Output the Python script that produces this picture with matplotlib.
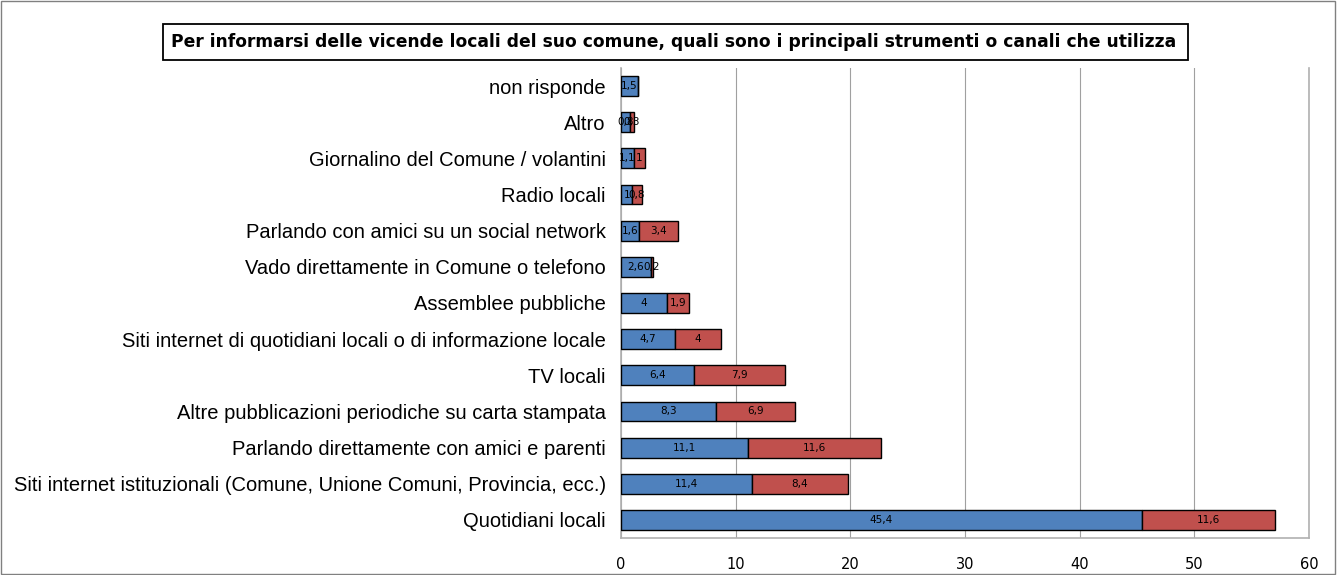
import numpy as np
import matplotlib.pyplot as plt
from matplotlib.patches import Rectangle

# Categories from bottom to top
categories = [
    "Quotidiani locali",
    "Siti internet istituzionali (Comune, Unione Comuni, Provincia, ecc.)",
    "Parlando direttamente con amici e parenti",
    "Altre pubblicazioni periodiche su carta stampata",
    "TV locali",
    "Siti internet di quotidiani locali o di informazione locale",
    "Assemblee pubbliche",
    "Vado direttamente in Comune o telefono",
    "Parlando con amici su un social network",
    "Radio locali",
    "Giornalino del Comune / volantini",
    "Altro",
    "non risponde",
]
first_choice = [45.4, 11.4, 11.1, 8.3, 6.4, 4.7, 4, 2.6, 1.6, 1.0, 1.1, 0.8, 1.5]
second_choice = [11.6, 8.4, 11.6, 6.9, 7.9, 4, 1.9, 0.2, 3.4, 0.8, 1.0, 0.3, 0]
xticks = [0, 10, 20, 30, 40, 50, 60]

title = ("Per informarsi delle vicende locali del suo comune, "
         "quali sono i principali strumenti o canali che utilizza")

blue = "#4F81BD"
red = "#C0504D"

def fmt(v):
    s = ("%.1f" % v).rstrip("0").rstrip(".")
    return s.replace(".", ",")

W, H = 1338, 575
fig = plt.figure(figsize=(W / 100, H / 100), dpi=100)
ax = fig.add_axes([621 / W, 1 - 538 / H, 688 / W, 470 / H])

y = np.arange(len(categories))
b1 = ax.barh(y, first_choice, height=0.55, color=blue, edgecolor="black", lw=1, zorder=3)
b2 = ax.barh(y, second_choice, left=first_choice, height=0.55, color=red,
             edgecolor="black", lw=1, zorder=3)

# value labels in the middle of each segment
for i in range(len(categories)):
    ax.text(first_choice[i] / 2, y[i], fmt(first_choice[i]), ha="center", va="center",
            fontsize=7.5, family="Liberation Sans Narrow", zorder=4)
    if second_choice[i] > 0:
        ax.text(first_choice[i] + second_choice[i] / 2, y[i], fmt(second_choice[i]),
                ha="center", va="center", fontsize=7.5,
                family="Liberation Sans Narrow", zorder=4)

ax.set_xlim(0, 60)
ax.set_ylim(-0.5, len(categories) - 0.5)
ax.set_xticks(xticks)
ax.set_xticklabels([str(t) for t in xticks], fontsize=10.5, family="Liberation Sans Narrow")
ax.set_yticks(y)
ax.set_yticklabels(categories, fontsize=14.5, family="Liberation Sans")
ax.tick_params(axis="both", length=0)
ax.tick_params(axis="x", pad=14)
ax.tick_params(axis="y", pad=11)
ax.grid(axis="x", color="#a0a0a0", lw=0.8, zorder=0)
ax.spines["top"].set_visible(False)
for side in ["left", "right", "bottom"]:
    ax.spines[side].set_color("#b0b0b0")
    ax.spines[side].set_linewidth(1.2)
    ax.spines[side].set_zorder(2)

# boxed title
fig.patches.append(Rectangle((163 / W, 1 - 60 / H), 1025 / W, 36 / H,
                             transform=fig.transFigure, fc="white", ec="black", lw=1.3))
fig.text(674 / W, 1 - 42 / H, title, ha="center", va="center", fontsize=12.35,
         fontweight="bold", family="Liberation Sans Narrow")

# outer frame of the chart
fig.patches.append(Rectangle((0.001, 0.001), 0.997, 0.997, transform=fig.transFigure,
                             fill=False, ec="#808080", lw=1))

fig.savefig("out.png", dpi=100)
